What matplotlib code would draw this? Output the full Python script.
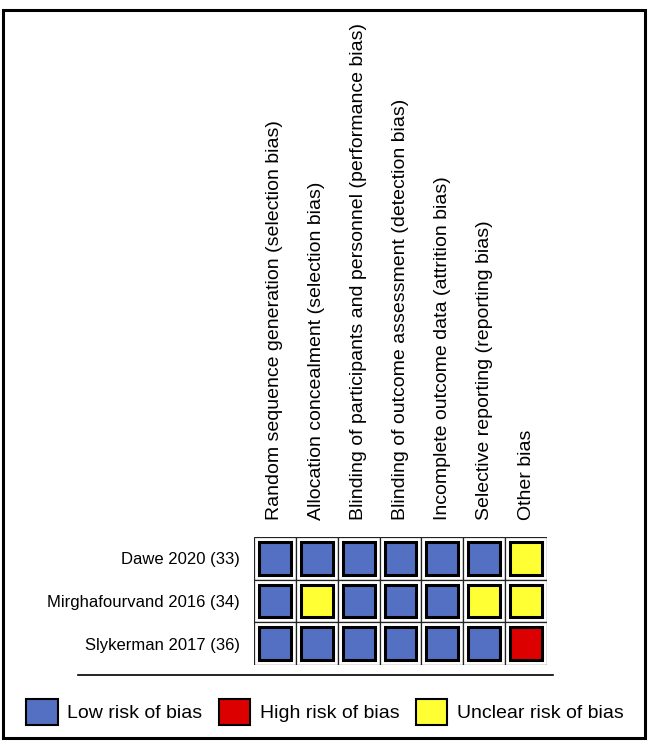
import matplotlib
matplotlib.use("Agg")
import matplotlib.pyplot as plt
from matplotlib.patches import Rectangle, Patch
from matplotlib.lines import Line2D

plt.rcParams['font.family'] = ['Liberation Sans', 'DejaVu Sans']

studies = ['Dawe 2020 (33)', 'Mirghafourvand 2016 (34)', 'Slykerman 2017 (36)']
domains = [
    'Random sequence generation (selection bias)',
    'Allocation concealment (selection bias)',
    'Blinding of participants and personnel (performance bias)',
    'Blinding of outcome assessment (detection bias)',
    'Incomplete outcome data (attrition bias)',
    'Selective reporting (reporting bias)',
    'Other bias',
]
# L = low, H = high, U = unclear
judgements = [
    ['L', 'L', 'L', 'L', 'L', 'L', 'U'],
    ['L', 'U', 'L', 'L', 'L', 'U', 'U'],
    ['L', 'L', 'L', 'L', 'L', 'L', 'H'],
]
legend_labels = {'L': 'Low risk of bias', 'H': 'High risk of bias', 'U': 'Unclear risk of bias'}
colors = {'L': '#5470c2', 'H': '#dd0000', 'U': '#ffff33'}

W, H = 661, 744
fig = plt.figure(figsize=(W / 100, H / 100), dpi=100)

# grid axes placed where the table sits
ax = fig.add_axes([254 / W, 1 - 665 / H, 293 / W, 128 / H])
nrow, ncol = len(studies), len(domains)
ax.set_xlim(0, ncol)
ax.set_ylim(nrow, 0)

inset = 0.12
for i, row in enumerate(judgements):
    for j, v in enumerate(row):
        ax.add_patch(Rectangle((j, i), 1, 1, facecolor='white',
                               edgecolor='#222222', linewidth=0.9))
        ax.add_patch(Rectangle((j + inset, i + inset), 1 - 2 * inset, 1 - 2 * inset,
                               facecolor=colors[v], edgecolor='black', linewidth=2.2))

ax.set_xticks([j + 0.5 for j in range(ncol)])
ax.set_xticklabels(domains, rotation=90, fontsize=14, va='bottom')
ax.xaxis.set_ticks_position('top')
ax.tick_params(axis='x', length=0, pad=12)
ax.set_yticks([i + 0.5 for i in range(nrow)])
ax.set_yticklabels(studies, fontsize=12)
ax.tick_params(axis='y', length=0, pad=10)
for s in ax.spines.values():
    s.set_visible(False)
ax.set_facecolor('none')

# separator line and outer frame
fig.add_artist(Line2D([78 / W, 553 / W], [1 - 675 / H, 1 - 675 / H],
                      color='black', linewidth=1.2))
fig.add_artist(Rectangle((3 / W, 1 - 738 / H), 642 / W, 728 / H, transform=fig.transFigure,
                         fill=False, edgecolor='black', linewidth=2.2))

handles = [Patch(facecolor=colors[k], edgecolor='black', linewidth=1.5) for k in ['L', 'H', 'U']]
fig.legend(handles, [legend_labels[k] for k in ['L', 'H', 'U']],
           loc='center', bbox_to_anchor=(325 / W, 1 - 712 / H), ncol=3, frameon=False,
           fontsize=14, handlelength=1.6, handleheight=1.7, handletextpad=0.5,
           columnspacing=0.85, borderaxespad=0)

fig.savefig('out.png', dpi=100)
